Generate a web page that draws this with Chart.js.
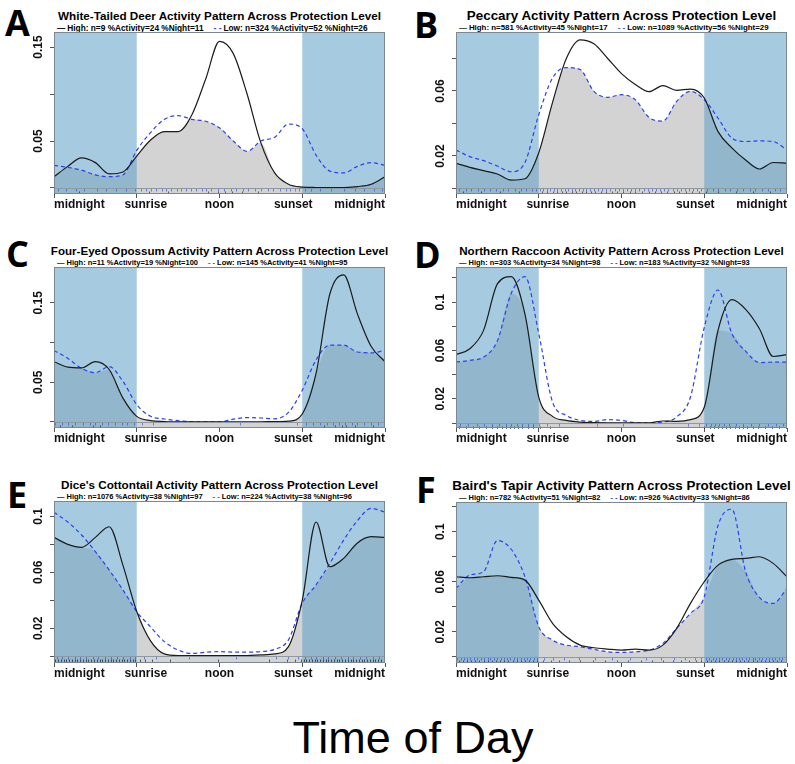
<!DOCTYPE html>
<html>
<head>
<meta charset="utf-8">
<script src="https://cdn.jsdelivr.net/npm/chart.js@4.4.1/dist/chart.umd.min.js"></script>
<style>
  body { margin: 0; background: #fff; width: 795px; height: 764px; position: relative; overflow: hidden;
         font-family: "Liberation Sans", Arial, sans-serif; }
  canvas { position: absolute; }
  .letter { position: absolute; font-family: "Open Sans", sans-serif; font-weight: 700; font-size: 36px; line-height: 36px; color: #000; }
  .title { position: absolute; font-weight: bold; line-height: 14px; white-space: nowrap; transform: translateX(-50%); color: #000; }
  .legend { position: absolute; font-weight: bold; line-height: 8px; white-space: nowrap; color: #000; }
  .legend .hi { color: #1b1b1b; margin-right: 2px; }
  .legend .lo { color: #2f3ff2; margin-left: 10px; margin-right: 2px; }
  #xlabel { position: absolute; left: 0; width: 826px; text-align: center; top: 715px; font-size: 45px; line-height: 45px; color: #000; }
</style>
</head>
<body>
<div id="xlabel">Time of Day</div>
<script>
// hours of the day, midnight to midnight
const hours = [0,1,2,3,4,5,6,7,8,9,10,11,12,13,14,15,16,17,18,19,20,21,22,23,24];
const xTickValues = [0, 6, 12, 18, 24];
const xTickLabels = ["midnight", "sunrise", "noon", "sunset", "midnight"];
const nightRanges = [[0, 6], [18, 24]];

// density curves (High = solid black, Low = dashed blue)
const deerHigh = [0.012,0.023,0.032,0.027,0.015,0.017,0.034,0.051,0.060,0.060,0.078,0.116,0.156,0.143,0.100,0.048,0.016,0.004,0.001,0.0005,0.0003,0.0005,0.0015,0.004,0.012];
const deerLow = [0.024,0.022,0.019,0.014,0.012,0.014,0.040,0.059,0.073,0.077,0.073,0.071,0.064,0.050,0.039,0.050,0.054,0.068,0.063,0.035,0.018,0.016,0.023,0.027,0.024];

const peccaryHigh = [0.0155,0.013,0.011,0.0089,0.0052,0.006,0.022,0.053,0.080,0.0915,0.089,0.080,0.0707,0.064,0.0596,0.0633,0.0604,0.0612,0.0557,0.035,0.025,0.0175,0.012,0.016,0.0155];
const peccaryLow = [0.0237,0.0196,0.0171,0.0138,0.0103,0.016,0.0454,0.068,0.0744,0.0732,0.0598,0.0561,0.0577,0.0546,0.0437,0.0415,0.0536,0.0598,0.0546,0.0433,0.031,0.0289,0.0293,0.0289,0.0237];

const opossumHigh = [0.0758,0.069,0.068,0.076,0.066,0.030,0.007,0.0017,0.0005,0.0002,0.0001,0.0001,0.0001,0.0001,0.0001,0.0002,0.0004,0.001,0.010,0.061,0.161,0.185,0.136,0.095,0.0758];
const opossumLow = [0.090,0.080,0.0675,0.062,0.0696,0.051,0.0217,0.0071,0.0037,0.0017,0.0004,0.0001,0.0001,0.0035,0.0055,0.005,0.004,0.012,0.040,0.078,0.0967,0.0967,0.088,0.087,0.090];

const raccoonHigh = [0.0565,0.0614,0.0766,0.115,0.121,0.090,0.0215,0.0055,0.0022,0.0008,0.0003,0.0002,0.0002,0.0002,0.0002,0.0017,0.0014,0.0028,0.013,0.0766,0.102,0.094,0.078,0.055,0.0565];
const raccoonLow = [0.0504,0.0518,0.0545,0.068,0.107,0.121,0.074,0.0174,0.0063,0.0022,0.0014,0.0028,0.0022,0.0003,0.0002,0.0008,0.005,0.0215,0.079,0.110,0.074,0.0595,0.050,0.0504,0.0504];

const cottontailHigh = [0.085,0.080,0.0779,0.085,0.0926,0.065,0.032,0.011,0.0017,0.0005,0.0005,0.0005,0.0005,0.0005,0.0005,0.001,0.0017,0.0069,0.040,0.096,0.064,0.070,0.081,0.0855,0.085];
const cottontailLow = [0.103,0.096,0.0867,0.0748,0.0617,0.0474,0.0319,0.021,0.0105,0.0045,0.002,0.0029,0.0033,0.003,0.003,0.0033,0.005,0.0117,0.0379,0.051,0.0664,0.083,0.097,0.1057,0.103];

const tapirHigh = [0.064,0.0632,0.064,0.0648,0.0635,0.0613,0.0453,0.0267,0.016,0.0093,0.0072,0.0061,0.0053,0.0061,0.0053,0.0093,0.0227,0.0427,0.060,0.0733,0.0779,0.0787,0.080,0.0747,0.064];
const tapirLow = [0.0547,0.0653,0.068,0.093,0.086,0.064,0.024,0.0133,0.0093,0.008,0.0059,0.004,0.0035,0.004,0.0053,0.0107,0.0227,0.0347,0.048,0.105,0.118,0.068,0.0475,0.0427,0.0547];

// detection times shown as rug marks
const deerRugLow = [0.3,0.9,1.6,2.2,3.1,3.8,4.5,5.2,5.9,6.3,6.7,7.0,7.4,7.8,8.1,8.5,8.9,9.2,9.6,9.9,10.3,10.7,11.0,11.4,11.9,12.3,12.8,13.2,13.7,14.1,14.6,15.0,15.5,15.9,16.4,16.8,17.1,17.5,17.8,18.2,18.6,19.3,20.1,21.0,21.8,22.5,23.2,23.8];
const deerRugHigh = [1.8,6.9,8.3,11.2,11.9,12.4,12.9,13.6,14.8];
const peccaryRugLow = [0.2,0.7,1.1,1.6,2.0,2.5,2.9,3.4,3.8,4.3,4.7,5.1,5.5,5.8,6.1,6.3,6.6,6.8,7.1,7.3,7.6,7.9,8.1,8.4,8.6,8.9,9.2,9.4,9.7,10.0,10.3,10.6,10.9,11.2,11.5,11.8,12.1,12.4,12.7,13.0,13.3,13.6,13.9,14.2,14.5,14.8,15.1,15.4,15.7,16.0,16.3,16.6,16.9,17.2,17.5,17.8,18.2,18.6,19.0,19.5,19.9,20.4,20.8,21.3,21.7,22.2,22.6,23.1,23.5,23.9];
const peccaryRugHigh = [0.5,1.8,3.2,4.6,6.2,6.6,7.0,7.3,7.7,8.0,8.4,8.7,9.1,9.4,9.8,10.1,10.5,10.9,11.3,11.7,12.1,12.6,13.0,13.5,14.0,14.4,14.9,15.3,15.8,16.2,16.7,17.1,17.6,18.1,19.0,20.3,21.5,22.8];
const opossumRugLow = [0.1,0.6,1.0,1.5,2.1,2.6,3.0,3.5,3.9,4.4,4.9,5.3,5.8,6.4,7.2,13.5,17.6,18.3,18.8,19.3,19.8,20.2,20.7,21.1,21.6,22.0,22.5,23.0,23.5];
const opossumRugHigh = [0.4,1.3,2.8,3.3,19.6,20.4,20.9,21.2,21.8,23.1];
const raccoonRugLow = [0.3,0.9,1.5,2.0,2.6,3.1,3.6,4.0,4.4,4.8,5.2,5.6,6.0,6.6,7.5,10.2,12.1,16.8,17.6,18.1,18.5,18.8,19.1,19.4,19.8,20.3,20.8,21.4,22.0,22.6,23.2,23.7];
const raccoonRugHigh = [0.2,0.7,1.2,1.7,2.2,2.6,3.0,3.3,3.6,3.9,4.2,4.5,4.8,5.2,5.6,6.1,6.8,18.0,18.4,18.7,19.0,19.3,19.6,19.9,20.2,20.5,20.8,21.1,21.5,21.9,22.4,22.9,23.4,23.9];
const cottontailRugLow = [0.2,0.6,1.0,1.5,1.9,2.3,2.8,3.2,3.7,4.1,4.6,5.0,5.5,5.9,6.5,7.4,9.8,13.2,16.1,17.0,17.7,18.2,18.6,19.0,19.5,19.9,20.4,20.8,21.3,21.7,22.2,22.6,23.1,23.6];
const cottontailRugHigh = [0.1,0.3,0.5,0.7,0.9,1.1,1.3,1.5,1.7,1.9,2.1,2.3,2.5,2.7,2.9,3.1,3.3,3.5,3.7,3.9,4.1,4.3,4.5,4.7,4.9,5.1,5.3,5.5,5.7,5.9,6.2,6.6,7.1,8.4,11.9,15.6,16.9,17.5,17.9,18.1,18.3,18.5,18.7,18.9,19.1,19.3,19.5,19.7,19.9,20.1,20.3,20.5,20.7,20.9,21.1,21.3,21.5,21.7,21.9,22.1,22.3,22.5,22.7,22.9,23.1,23.3,23.5,23.7,23.9];
const tapirRugLow = [0.1,0.35,0.6,0.8,1.05,1.3,1.55,1.8,2.05,2.3,2.5,2.75,3.0,3.25,3.5,3.7,3.95,4.2,4.45,4.7,4.9,5.15,5.4,5.65,5.9,6.4,7.0,7.8,8.9,10.1,11.3,12.6,13.8,14.9,15.8,16.6,17.3,17.8,18.1,18.35,18.6,18.85,19.1,19.3,19.55,19.8,20.05,20.3,20.5,20.75,21.0,21.25,21.5,21.7,21.95,22.2,22.45,22.7,22.9,23.15,23.4,23.65,23.9];
const tapirRugHigh = [0.2,0.5,0.8,1.1,1.4,1.7,2.0,2.3,2.6,2.9,3.2,3.5,3.8,4.1,4.4,4.7,5.0,5.3,5.6,5.9,6.3,6.9,7.5,8.2,9.0,9.9,10.8,11.7,12.5,13.4,14.2,15.0,15.7,16.3,16.9,17.4,17.8,18.2,18.5,18.8,19.1,19.4,19.7,20.0,20.3,20.6,20.9,21.2,21.5,21.8,22.1,22.4,22.7,23.0,23.3,23.6,23.9];

// texts
const panelLetters = ["A", "B", "C", "D", "E", "F"];
const panelTitles = [
  "White-Tailed Deer Activity Pattern Across Protection Level",
  "Peccary Activity Pattern Across Protection Level",
  "Four-Eyed Opossum Activity Pattern Across Protection Level",
  "Northern Raccoon Activity Pattern Across Protection Level",
  "Dice's Cottontail Activity Pattern Across Protection Level",
  "Baird's Tapir Activity Pattern Across Protection Level"
];
const highStats = [
  "High: n=9 %Activity=24 %Night=11",
  "High: n=581 %Activity=45 %Night=17",
  "High: n=11 %Activity=19 %Night=100",
  "High: n=303 %Activity=34 %Night=98",
  "High: n=1076 %Activity=38 %Night=97",
  "High: n=782 %Activity=51 %Night=82"
];
const lowStats = [
  "Low: n=324 %Activity=52 %Night=26",
  "Low: n=1089 %Activity=56 %Night=29",
  "Low: n=145 %Activity=41 %Night=95",
  "Low: n=183 %Activity=32 %Night=93",
  "Low: n=224 %Activity=38 %Night=96",
  "Low: n=926 %Activity=33 %Night=86"
];
// y tick steps and which ticks carry a label
const yStepList = [0.05, 0.02, 0.05, 0.02, 0.02, 0.02];
const yLabelList = [[0.05, 0.15], [0.02, 0.06], [0.05, 0.15], [0.02, 0.06, 0.1], [0.02, 0.06, 0.1], [0.02, 0.06, 0.1]];

const panels = [
  { high: deerHigh, low: deerLow, rugHigh: deerRugHigh, rugLow: deerRugLow, yMin: -0.0064, yMax: 0.166, area: [54, 32, 385, 194] },
  { high: peccaryHigh, low: peccaryLow, rugHigh: peccaryRugHigh, rugLow: peccaryRugLow, yMin: -0.0034, yMax: 0.0963, area: [456, 32, 787, 194] },
  { high: opossumHigh, low: opossumLow, rugHigh: opossumRugHigh, rugLow: opossumRugLow, yMin: -0.0076, yMax: 0.195, area: [54, 267, 385, 428] },
  { high: raccoonHigh, low: raccoonLow, rugHigh: raccoonRugHigh, rugLow: raccoonRugLow, yMin: -0.0041, yMax: 0.129, area: [456, 267, 787, 428] },
  { high: cottontailHigh, low: cottontailLow, rugHigh: cottontailRugHigh, rugLow: cottontailRugLow, yMin: -0.0048, yMax: 0.111, area: [54, 501, 385, 663] },
  { high: tapirHigh, low: tapirLow, rugHigh: tapirRugHigh, rugLow: tapirRugLow, yMin: -0.005, yMax: 0.1238, area: [456, 502, 787, 663] }
];
const letterPos = [[5, 5], [414, 7], [6, 236], [414, 237], [7, 477], [416, 472]];
// each panel was scaled a little differently in the original figure
const titleSize = [11.7, 13.4, 11.6, 11.6, 11.7, 13.4];
const legendSize = [8.3, 7.9, 7.5, 7.5, 7.5, 7.5];

const AXIS_W = 26, AXIS_H = 22, PAD_T = 2, PAD_R = 4;
const NIGHT = "rgba(93,159,199,0.55)";
const LABEL_FONT = 'bold 12px "Liberation Sans", Arial, sans-serif';

function decorPlugin(p, i) {
  return {
    id: "decor" + i,
    // night shading goes over the grey overlap but under the two curves
    beforeDatasetDraw(chart, args) {
      if (args.index !== 1) return;
      const { ctx, chartArea: a, scales: { x } } = chart;
      ctx.save();
      ctx.fillStyle = NIGHT;
      nightRanges.forEach(([s, e]) => {
        const x0 = x.getPixelForValue(s), x1 = x.getPixelForValue(e);
        ctx.fillRect(x0, a.top, x1 - x0, a.bottom - a.top);
      });
      ctx.restore();
    },
    afterDatasetsDraw(chart) {
      const { ctx, chartArea: a, scales: { x, y } } = chart;
      const y0 = Math.round(y.getPixelForValue(0));
      ctx.save();
      ctx.strokeStyle = "#8d99a3";
      ctx.lineWidth = 1;
      ctx.beginPath();
      ctx.moveTo(a.left, y0 + 0.5);
      ctx.lineTo(a.right, y0 + 0.5);
      ctx.stroke();
      // rug marks
      const rug = (times, color, top, bot) => {
        ctx.strokeStyle = color;
        times.forEach(t => {
          const px = Math.round(x.getPixelForValue(t)) + 0.5;
          ctx.beginPath();
          ctx.moveTo(px, y0 + top);
          ctx.lineTo(px, y0 + bot);
          ctx.stroke();
        });
      };
      rug(p.rugLow, "rgba(45,65,240,0.6)", 1, 3.5);
      rug(p.rugHigh, "rgba(10,10,10,0.6)", 3.5, 6);
      ctx.restore();
    },
    afterDraw(chart) {
      const { ctx, chartArea: a, scales: { x, y } } = chart;
      ctx.save();
      ctx.strokeStyle = "#7b8792";
      ctx.lineWidth = 1;
      ctx.strokeRect(a.left + 0.5, a.top + 0.5, a.right - a.left - 1, a.bottom - a.top - 1);
      ctx.fillStyle = "#111";
      ctx.font = LABEL_FONT;
      ctx.textBaseline = "middle";
      xTickValues.forEach((v, k) => {
        let px = x.getPixelForValue(v);
        if (k === 0) ctx.textAlign = "left";
        else if (k === xTickValues.length - 1) ctx.textAlign = "right";
        else { ctx.textAlign = "center"; px += v < 12 ? 9 : v > 12 ? -9 : 0; }
        ctx.fillText(xTickLabels[k], px, a.bottom + 11);
      });
      ctx.textAlign = "center";
      yLabelList[i].forEach(v => {
        ctx.save();
        ctx.translate(a.left - 15, y.getPixelForValue(v));
        ctx.rotate(-Math.PI / 2);
        ctx.fillText(String(v), 0, 0);
        ctx.restore();
      });
      ctx.restore();
    }
  };
}

function buildPanel(p, i) {
  const [left, top, right, bottom] = p.area;

  const letter = document.createElement("div");
  letter.className = "letter";
  letter.textContent = panelLetters[i];
  letter.style.left = letterPos[i][0] + "px";
  letter.style.top = letterPos[i][1] + "px";
  document.body.appendChild(letter);

  const title = document.createElement("div");
  title.className = "title";
  title.textContent = panelTitles[i];
  title.style.fontSize = titleSize[i] + "px";
  title.style.left = ((left + right) / 2) + "px";
  title.style.top = (top - 23) + "px";
  document.body.appendChild(title);

  const legend = document.createElement("div");
  legend.className = "legend";
  legend.innerHTML = `<span class="hi">—</span>${highStats[i]}<span class="lo">- -</span>${lowStats[i]}`;
  legend.style.fontSize = legendSize[i] + "px";
  legend.style.left = (left + 3) + "px";
  legend.style.top = (top - 8) + "px";
  document.body.appendChild(legend);

  const canvas = document.createElement("canvas");
  canvas.width = right - left + AXIS_W + PAD_R;
  canvas.height = bottom - top + PAD_T + AXIS_H;
  canvas.style.left = (left - AXIS_W) + "px";
  canvas.style.top = (top - PAD_T) + "px";
  document.body.appendChild(canvas);

  const pts = arr => arr.map((v, k) => ({ x: hours[k], y: v }));
  const overlap = p.high.map((v, k) => Math.min(v, p.low[k]));

  new Chart(canvas, {
    type: "line",
    data: {
      datasets: [
        { label: "High", data: pts(p.high), borderColor: "#1b1b1b", borderWidth: 1.2,
          pointRadius: 0, fill: false, cubicInterpolationMode: "monotone", order: 0 },
        { label: "Low", data: pts(p.low), borderColor: "#2f3ff2", borderWidth: 1.2, borderDash: [4, 3],
          pointRadius: 0, fill: false, cubicInterpolationMode: "monotone", order: 1 },
        { label: "Overlap", data: pts(overlap), borderWidth: 0, borderColor: "rgba(0,0,0,0)",
          backgroundColor: "#d3d3d3", pointRadius: 0, fill: "start", cubicInterpolationMode: "monotone", order: 2 }
      ]
    },
    options: {
      responsive: false,
      animation: false,
      devicePixelRatio: 1,
      layout: { padding: { top: PAD_T, right: PAD_R, left: 0, bottom: 0 } },
      plugins: { legend: { display: false }, tooltip: { enabled: false }, title: { display: false } },
      scales: {
        x: {
          type: "linear", min: 0, max: 24,
          afterFit(s) { s.height = AXIS_H; },
          ticks: { display: false, stepSize: 6 },
          grid: { drawOnChartArea: false, tickLength: 4, tickColor: "#555" },
          border: { display: false }
        },
        y: {
          min: p.yMin, max: p.yMax,
          afterFit(s) { s.width = AXIS_W; },
          ticks: { display: false, stepSize: yStepList[i], includeBounds: false },
          grid: { drawOnChartArea: false, tickLength: 4, tickColor: "#555" },
          border: { display: false }
        }
      }
    },
    plugins: [decorPlugin(p, i)]
  });
}

panels.forEach(buildPanel);
</script>
</body>
</html>
